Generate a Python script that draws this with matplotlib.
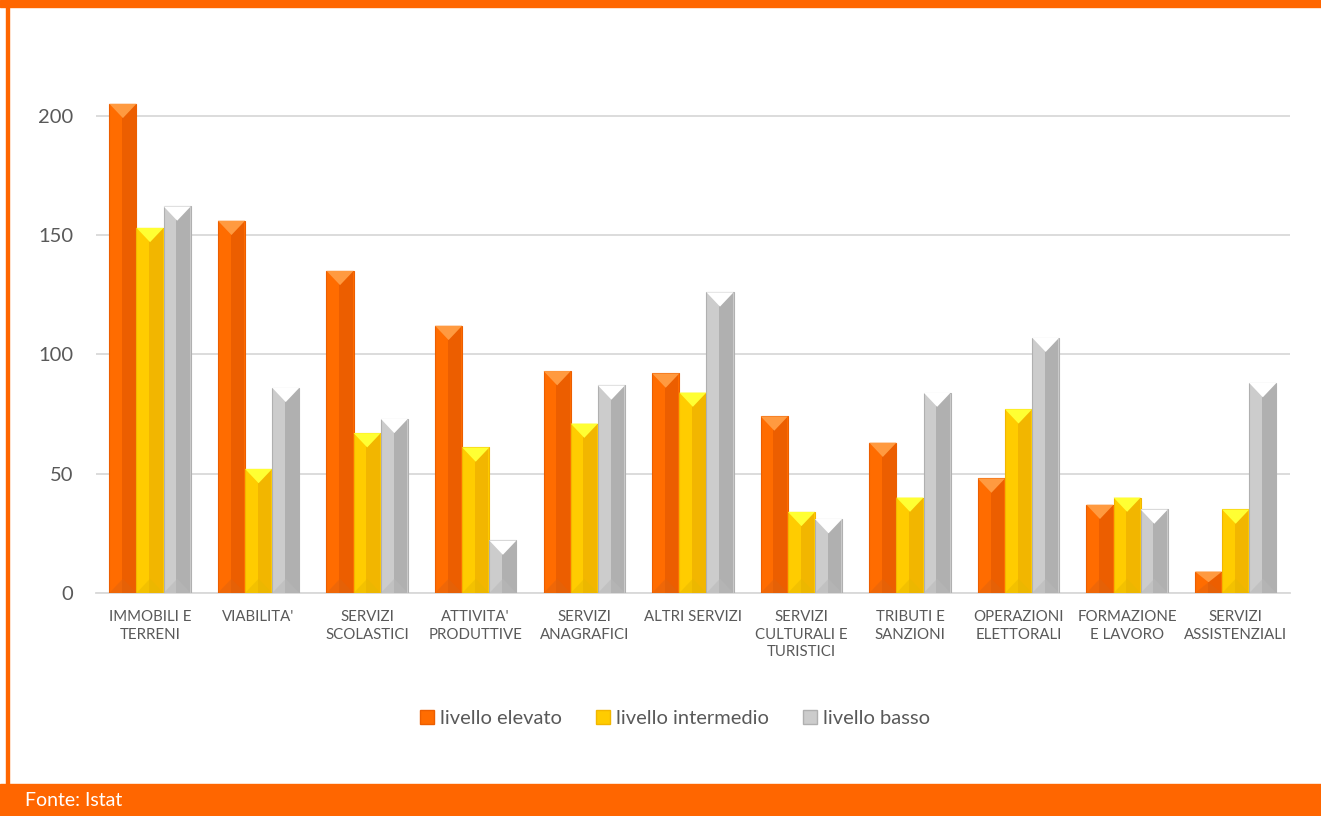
import numpy as np
import matplotlib.pyplot as plt
from matplotlib.patches import Polygon, Rectangle, Patch

categories = ["IMMOBILI E\nTERRENI", "VIABILITA'", "SERVIZI\nSCOLASTICI",
              "ATTIVITA'\nPRODUTTIVE", "SERVIZI\nANAGRAFICI", "ALTRI SERVIZI",
              "SERVIZI\nCULTURALI E\nTURISTICI", "TRIBUTI E\nSANZIONI",
              "OPERAZIONI\nELETTORALI", "FORMAZIONE\nE LAVORO",
              "SERVIZI\nASSISTENZIALI"]
elevato = [205, 156, 135, 112, 93, 92, 74, 63, 48, 37, 9]
intermedio = [153, 52, 67, 61, 71, 84, 34, 40, 77, 40, 35]
basso = [162, 86, 73, 22, 87, 126, 31, 84, 107, 35, 88]
series_names = ['livello elevato', 'livello intermedio', 'livello basso']

# face, right shade, top bevel, bottom bevel
styles = [('#FF6C00', '#EC5E00', '#FF9A40', '#E0640F'),
          ('#FFCC00', '#F2B600', '#FFFF33', '#E8B800'),
          ('#CCCCCC', '#B0B0B0', '#FFFFFF', '#B8B8B8')]

plt.rcParams['font.family'] = ['Lato', 'DejaVu Sans']

fig = plt.figure(figsize=(13.21, 8.16), dpi=100)
ax = fig.add_axes([0.0725, 0.2733, 0.904, 0.6434])

x = np.arange(len(categories))
w = 0.25
bev = 6.0  # bevel height in data units
for i, vals in enumerate([elevato, intermedio, basso]):
    face, shade, top, bot = styles[i]
    xs = x + (i - 1) * w
    ax.bar(xs, vals, w, color=face, edgecolor=shade, linewidth=0.8, zorder=3)
    ax.bar(xs + w * 0.22, vals, w * 0.5, color=shade, linewidth=0, zorder=3)
    for xc, v in zip(xs, vals):
        h = min(bev, v / 2)
        ax.add_patch(Polygon([[xc - w / 2, v], [xc + w / 2, v], [xc, v - h]],
                             closed=True, color=top, zorder=4, linewidth=0))
        ax.add_patch(Polygon([[xc - w / 2, 0], [xc + w / 2, 0], [xc, h]],
                             closed=True, color=bot, zorder=4, linewidth=0, alpha=0.5))

ax.set_xlim(-0.5, len(categories) - 0.5)
ax.set_ylim(0, 220)
ax.set_yticks([0, 50, 100, 150, 200])
ax.yaxis.grid(True, color='#D9D9D9', linewidth=1.3, zorder=0)
ax.set_axisbelow(True)
for s in ['top', 'right', 'left']:
    ax.spines[s].set_visible(False)
ax.spines['bottom'].set_color('#D9D9D9')
ax.spines['bottom'].set_linewidth(1.3)
ax.tick_params(axis='both', length=0, colors='#595959')
ax.tick_params(axis='y', labelsize=14.5, pad=16)
ax.set_xticks(x)
ax.set_xticklabels(categories, fontsize=10.8, linespacing=1.35)
ax.tick_params(axis='x', pad=12)

handles = [Patch(facecolor=s[0], edgecolor=s[1]) for s in styles]
fig.legend(handles, series_names, loc='center', bbox_to_anchor=(0.511, 0.119),
           ncol=3, frameon=False, fontsize=14.5, handlelength=0.7,
           handleheight=0.7, handletextpad=0.3, columnspacing=1.7,
           labelcolor='#595959')

# frame: orange bands and left border
orange = '#FF6600'
fig.patches.append(Rectangle((0, 1 - 7 / 816), 1, 7 / 816, transform=fig.transFigure,
                             color=orange, zorder=0))
fig.patches.append(Rectangle((0, 0), 1, 32 / 816, transform=fig.transFigure,
                             color=orange, zorder=0))
fig.patches.append(Rectangle((6 / 1321, 0), 2.5 / 1321, 1, transform=fig.transFigure,
                             color=orange, zorder=0))
fig.text(25 / 1321, 15 / 816, 'Fonte: Istat', color='white', fontsize=14,
         va='center', ha='left')

fig.savefig('out.png', dpi=100)
